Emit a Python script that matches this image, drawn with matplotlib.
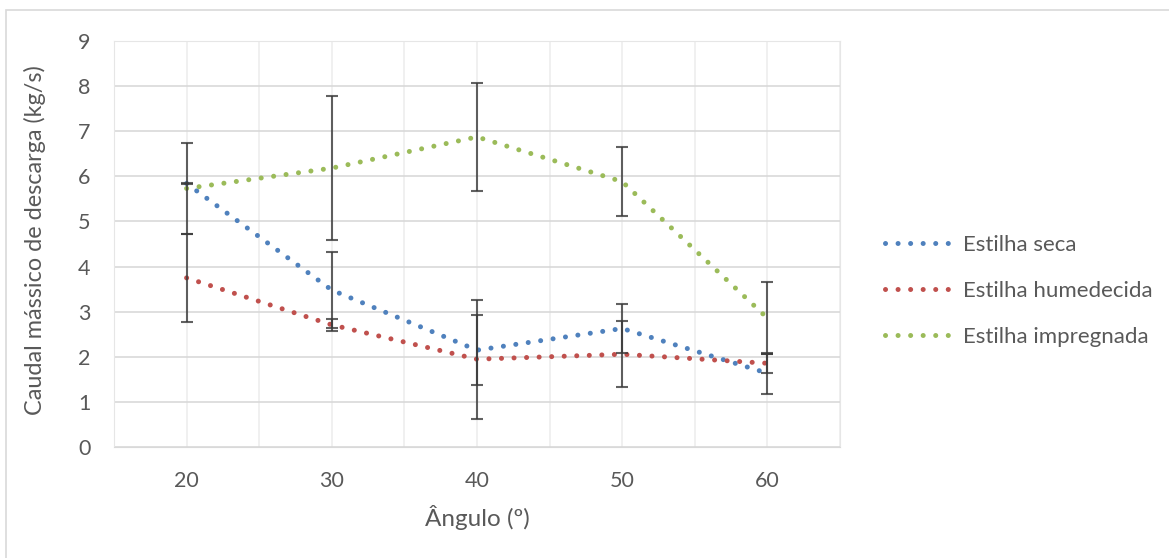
import matplotlib
matplotlib.use("Agg")
import matplotlib.pyplot as plt
from matplotlib.patches import Rectangle

# dados
angulos = [20, 30, 40, 50, 60]
seca = [5.84, 3.48, 2.15, 2.63, 1.64]
humedecida = [3.75, 2.71, 1.95, 2.06, 1.86]
impregnada = [5.73, 6.18, 6.87, 5.88, 2.86]
err_seca = [0.01, 0.85, 0.77, 0.54, 0.45]
err_humedecida = [0.97, 0.13, 1.32, 0.73, 0.21]
err_impregnada = [1.01, 1.59, 1.19, 0.76, 0.79]

nomes = ["Estilha seca", "Estilha humedecida", "Estilha impregnada"]
cores = ["#4F81BD", "#C0504D", "#9BBB59"]

plt.rcParams['font.family'] = ['Lato', 'DejaVu Sans']
cinza = "#595959"

fig = plt.figure(figsize=(11.69, 5.58), dpi=100)
ax = fig.add_axes([114/1169, 1 - 447.3/558, (840 - 114)/1169, (447.3 - 40.7)/558])

series = [(seca, err_seca), (humedecida, err_humedecida), (impregnada, err_impregnada)]
for (vals, errs), nome, cor in zip(series, nomes, cores):
    ax.plot(angulos, vals, color=cor, lw=3.6, linestyle=(0, (0.01, 2.5)),
            dash_capstyle='round', label=nome, zorder=3)
for vals, errs in series:
    ax.errorbar(angulos, vals, yerr=errs, fmt='none', ecolor='#3a3a3a', alpha=0.8,
                elinewidth=1.5, capsize=4, capthick=1.5, zorder=4)

ax.set_xlim(15, 65)
ax.set_ylim(0, 9)
ax.set_xticks([20, 30, 40, 50, 60])
ax.set_xticks(range(15, 66, 5), minor=True)
ax.set_yticks(range(0, 10))
ax.grid(True, which='major', axis='y', color='#d9d9d9', lw=1.2)
ax.grid(True, which='both', axis='x', color='#eeeeee', lw=1.2)
ax.set_axisbelow(True)
for s in ax.spines.values():
    s.set_color('#e6e6e6')
ax.spines['bottom'].set_color('#d9d9d9')
ax.tick_params(which='both', length=0, colors=cinza, labelsize=15.5)
ax.tick_params(axis='y', pad=17)
ax.tick_params(axis='x', pad=17)

ax.set_xlabel("Ângulo (º)", fontsize=17.5, color=cinza, labelpad=10)
ax.set_ylabel("Caudal mássico de descarga (kg/s)", fontsize=16.8, color=cinza)
ax.yaxis.set_label_coords(-0.094, 0.51)

leg = ax.legend(loc='center left', bbox_to_anchor=(1.035, 0.385), frameon=False,
                fontsize=16, labelcolor=cinza, handlelength=2.9, labelspacing=1.17,
                handletextpad=0.6)

# moldura do gráfico
fig.patches.append(Rectangle((6/1169, -0.1), 1.2, 1 - 10/558 + 0.1, transform=fig.transFigure,
                             fill=False, edgecolor='#d9d9d9', lw=1.2))

fig.savefig("out.png", dpi=100)
